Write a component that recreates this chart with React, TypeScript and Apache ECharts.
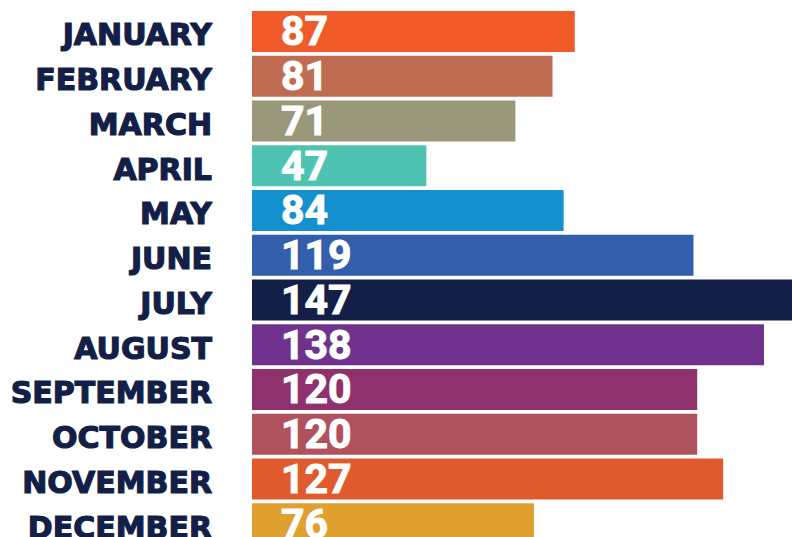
import React, { useEffect, useRef } from "react";
import * as echarts from "echarts";

const months = [
  "JANUARY", "FEBRUARY", "MARCH", "APRIL", "MAY", "JUNE",
  "JULY", "AUGUST", "SEPTEMBER", "OCTOBER", "NOVEMBER", "DECEMBER",
];
const counts = [87, 81, 71, 47, 84, 119, 147, 138, 120, 120, 127, 76];
const barColors = [
  "#EF5A28", "#C06C52", "#9A977A", "#4FC3B2", "#1490CE", "#325EAB",
  "#131F47", "#6F338E", "#8E316D", "#B0525E", "#DF5B2E", "#E0A030",
];

export default function App() {
  const ref = useRef<HTMLDivElement>(null);
  useEffect(() => {
    document.body.style.margin = "0";
    document.body.style.overflow = "hidden";
    const chart = echarts.init(ref.current!, undefined, { renderer: "svg" });
    chart.setOption({
      animation: false,
      grid: { left: 252, top: 9, width: 556.5, height: 537, containLabel: false },
      xAxis: {
        type: "value",
        min: 0,
        max: 150,
        show: false,
      },
      yAxis: {
        type: "category",
        data: months,
        inverse: true,
        axisLine: { show: false },
        axisTick: { show: false },
        axisLabel: {
          margin: 40,
          align: "right",
          formatter: (v: string) => `{m|${v}}`,
          rich: {
            m: {
              color: "#131F47",
              fontFamily: "DejaVu Sans",
              fontWeight: "bold",
              fontSize: 30,
              padding: [7, 0, 0, 0],
              textBorderColor: "#131F47",
              textBorderWidth: 1.2,
            },
          },
        },
      },
      series: [
        {
          type: "bar",
          data: counts.map((v, i) => ({ value: v, itemStyle: { color: barColors[i] } })),
          barWidth: 41,
          label: {
            show: true,
            position: "insideLeft",
            distance: 29,
            color: "#FFFFFF",
            fontFamily: "Roboto",
            fontWeight: "bold",
            fontSize: 41,
            textBorderColor: "#FFFFFF",
            textBorderWidth: 1,
          },
        },
      ],
    });
    return () => chart.dispose();
  }, []);
  return (
    <div
      ref={ref}
      style={{ position: "absolute", left: 0, top: 0, width: 810, height: 546 }}
    />
  );
}
